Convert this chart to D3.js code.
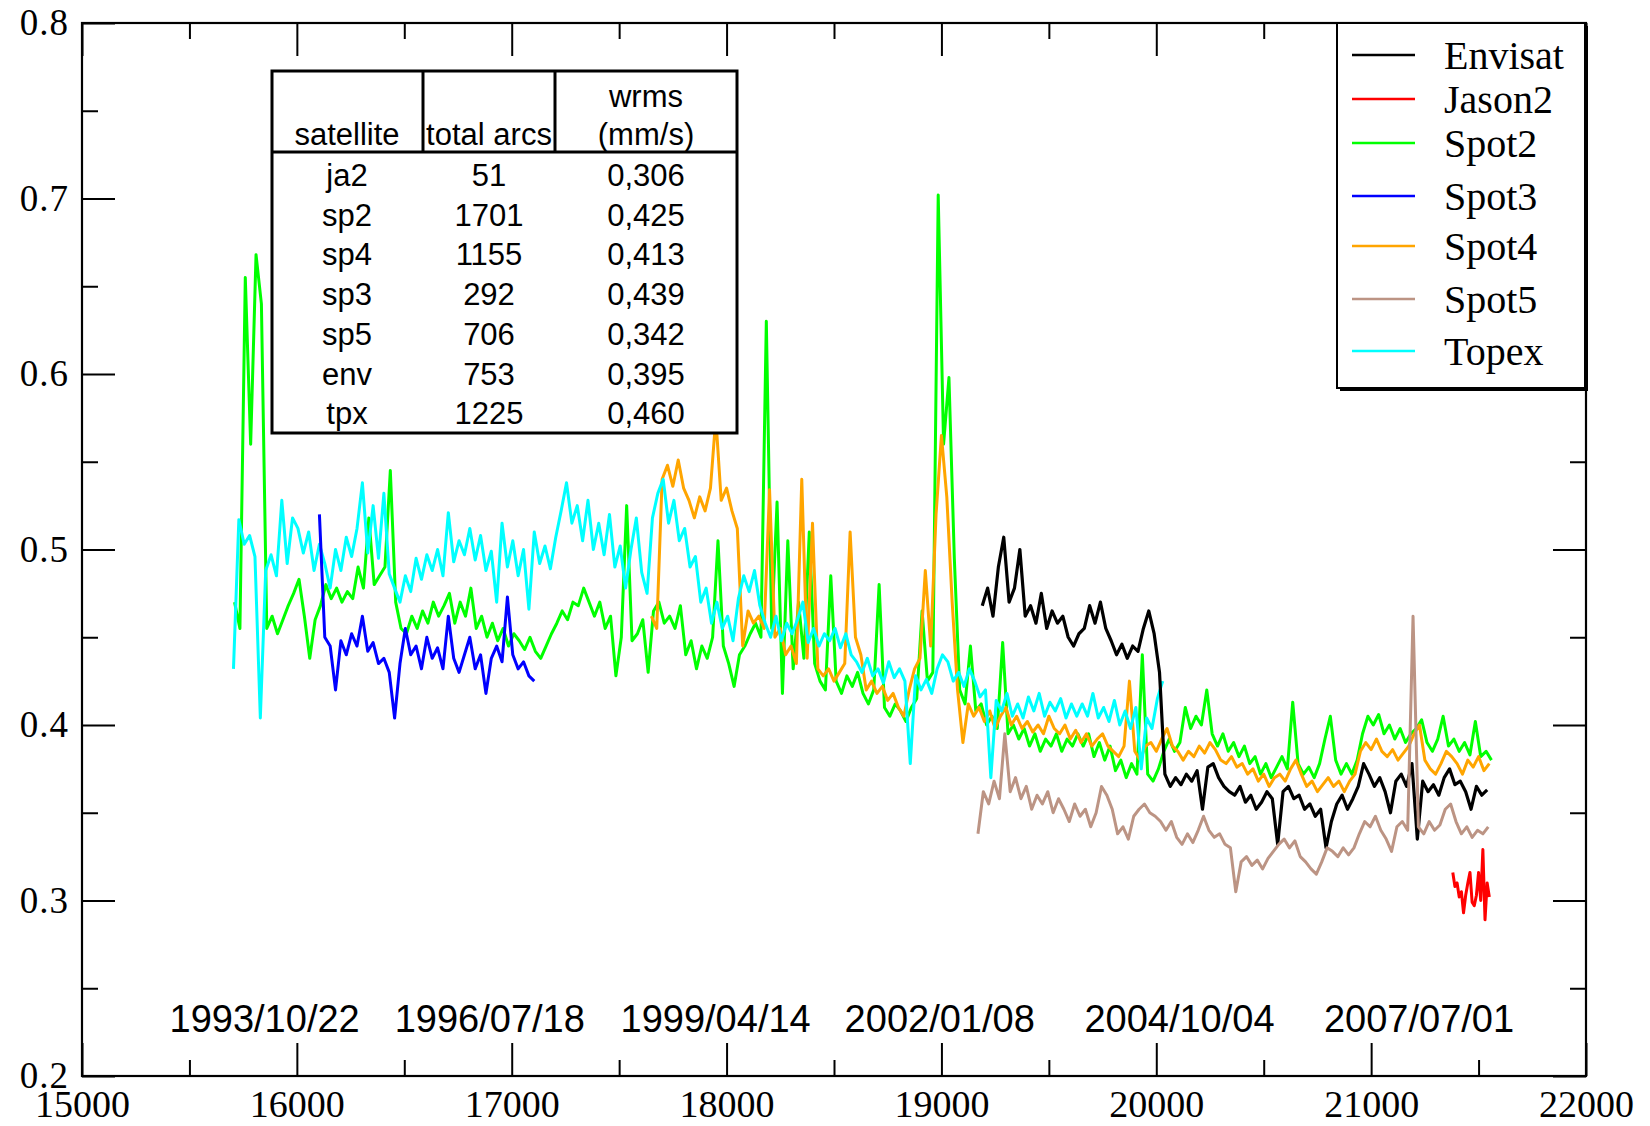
<!DOCTYPE html>
<html><head><meta charset="utf-8">
<script src="https://cdn.jsdelivr.net/npm/d3@7"></script>
<style>html,body{margin:0;padding:0;background:#fff;} svg{display:block;}</style>
</head><body>
<svg id="chart" width="1650" height="1126"></svg>
<script>
// ---------- data ----------
const seriesNames  = ["Envisat","Jason2","Spot2","Spot3","Spot4","Spot5","Topex"];
const seriesColors = ["#000000","#ff0000","#00ff00","#0000ff","#ffa500","#bc9484","#00ffff"];
const drawOrder    = ["Spot2","Spot4","Topex","Spot3","Envisat","Spot5","Jason2"];

// each series: first day (CNES julian day), day step, wrms values (mm/s)
const envisatStart = 19190, envisatStep = 25;
const envisatValues = [
.468,.478,.462,.490,.507,.470,.478,.500,.462,.468,
.458,.475,.455,.465,.458,.462,.450,.445,.452,.455,
.468,.458,.470,.455,.448,.440,.446,.438,.445,.442,
.455,.465,.452,.430,.372,.365,.370,.366,.372,.368,
.374,.352,.376,.378,.370,.365,.362,.360,.365,.356,
.360,.352,.356,.362,.358,.332,.362,.365,.358,.360,
.352,.355,.348,.352,.330,.345,.355,.360,.352,.358,
.365,.378,.372,.365,.370,.362,.350,.368,.372,.365,
.378,.335,.368,.362,.366,.360,.370,.375,.366,.368,
.362,.352,.365,.360,.363];

const jason2Start = 21380, jason2Step = 10;
const jason2Values = [.316,.308,.310,.302,.305,.293,.303,.310,.316,.299,.297,.303,.316,.300,.329,.289,.310,.302];

const spot2Start = 15710, spot2Step = 25;
const spot2Values = [
.470,.455,.655,.560,.668,.640,.455,.462,.452,.460,
.468,.475,.483,.462,.438,.460,.468,.480,.472,.478,
.470,.476,.472,.490,.478,.518,.480,.485,.490,.545,
.470,.455,.452,.462,.455,.465,.458,.470,.462,.468,
.475,.458,.470,.462,.478,.455,.462,.450,.458,.448,
.455,.445,.452,.448,.443,.450,.442,.438,.445,.452,
.458,.465,.460,.470,.468,.478,.470,.462,.470,.455,
.462,.428,.450,.525,.448,.452,.460,.430,.465,.470,
.458,.462,.455,.468,.440,.448,.432,.445,.438,.450,
.505,.445,.435,.422,.440,.445,.452,.458,.450,.630,
.455,.527,.418,.505,.432,.470,.438,.510,.435,.425,
.420,.485,.425,.418,.428,.422,.430,.418,.412,.420,
.480,.410,.405,.412,.408,.402,.410,.415,.465,.425,
.430,.702,.560,.598,.495,.420,.412,.445,.408,.412,
.400,.405,.398,.447,.395,.400,.392,.398,.388,.395,
.385,.392,.388,.395,.385,.392,.388,.395,.388,.395,
.382,.390,.380,.388,.374,.380,.370,.378,.372,.440,
.372,.368,.375,.385,.392,.385,.390,.410,.398,.405,
.400,.420,.395,.388,.395,.385,.390,.382,.388,.378,
.382,.372,.378,.370,.376,.382,.375,.413,.378,.372,
.376,.370,.378,.392,.405,.380,.372,.378,.372,.380,
.395,.405,.400,.406,.395,.400,.392,.398,.390,.395,
.398,.403,.390,.385,.392,.405,.388,.392,.385,.390,
.383,.402,.382,.385,.380];

const spot3Start = 16105, spot3Step = 25;
const spot3Values = [
.520,.450,.445,.420,.448,.440,.452,.445,.462,.442,
.447,.435,.438,.430,.404,.435,.455,.440,.445,.432,
.450,.438,.444,.432,.462,.438,.430,.440,.450,.432,
.440,.418,.438,.445,.436,.473,.440,.432,.436,.428,
.425];

const spot4Start = 17650, spot4Step = 25;
const spot4Values = [
.462,.455,.540,.548,.536,.551,.535,.528,.518,.530,
.522,.535,.575,.528,.535,.522,.512,.445,.465,.458,
.462,.455,.534,.450,.455,.440,.445,.435,.540,.438,
.515,.432,.428,.432,.425,.430,.435,.510,.450,.440,
.420,.425,.418,.422,.414,.418,.410,.405,.420,.432,
.438,.488,.445,.520,.565,.530,.470,.420,.390,.412,
.405,.410,.402,.408,.398,.405,.410,.400,.405,.398,
.402,.396,.400,.395,.405,.398,.395,.400,.392,.397,
.390,.395,.388,.392,.395,.388,.385,.382,.388,.425,
.385,.380,.388,.390,.385,.392,.398,.388,.385,.380,
.385,.382,.388,.384,.390,.386,.380,.378,.382,.376,
.378,.372,.375,.368,.372,.365,.370,.372,.368,.375,
.380,.372,.365,.368,.362,.366,.370,.365,.368,.362,
.368,.372,.385,.390,.386,.392,.385,.382,.386,.380,
.384,.388,.395,.400,.380,.375,.372,.378,.385,.382,
.378,.372,.380,.376,.382,.374,.378];

const spot5Start = 19170, spot5Step = 25;
const spot5Values = [
.338,.362,.355,.368,.358,.395,.362,.370,.358,.365,
.352,.360,.355,.362,.350,.358,.352,.345,.355,.348,
.352,.342,.350,.365,.360,.352,.338,.342,.335,.348,
.352,.355,.350,.348,.345,.340,.345,.336,.332,.338,
.333,.340,.348,.340,.336,.338,.332,.330,.305,.322,
.325,.320,.323,.318,.324,.328,.332,.335,.330,.334,
.325,.322,.318,.315,.322,.330,.328,.325,.330,.326,
.330,.338,.345,.342,.348,.340,.335,.328,.342,.345,
.340,.462,.342,.338,.345,.340,.343,.352,.355,.345,
.338,.342,.336,.340,.338,.342];

const topexStart = 15705, topexStep = 25;
const topexValues = [
.432,.517,.503,.508,.496,.404,.488,.497,.485,.528,
.492,.518,.512,.498,.510,.488,.503,.492,.478,.500,
.488,.507,.496,.512,.538,.498,.525,.495,.532,.486,
.478,.470,.485,.476,.495,.483,.497,.488,.500,.485,
.521,.493,.505,.497,.512,.494,.508,.488,.499,.470,
.515,.490,.505,.485,.500,.466,.510,.492,.502,.489,
.507,.522,.538,.515,.525,.505,.528,.500,.515,.497,
.520,.490,.502,.478,.500,.518,.487,.475,.518,.532,
.540,.515,.528,.505,.512,.490,.496,.470,.478,.458,
.470,.455,.462,.448,.472,.485,.476,.488,.468,.458,
.450,.462,.448,.458,.452,.460,.470,.447,.455,.445,
.452,.448,.455,.444,.452,.440,.436,.430,.438,.428,
.432,.424,.436,.427,.432,.425,.378,.428,.420,.426,
.418,.432,.440,.436,.425,.430,.422,.432,.425,.416,
.420,.370,.414,.408,.418,.405,.412,.404,.416,.408,
.418,.405,.413,.408,.415,.404,.412,.405,.412,.405,
.418,.404,.410,.402,.414,.400,.408,.398,.410,.375,
.404,.398,.415,.425];

const xMajorTicks = [15000,16000,17000,18000,19000,20000,21000,22000];
const xMinorTicks = [15500,16500,17500,18500,19500,20500,21500];
const yMajorTicks = [0.2,0.3,0.4,0.5,0.6,0.7,0.8];
const yMinorTicks = [0.25,0.35,0.45,0.55,0.65,0.75];

const dateLabels    = ["1993/10/22","1996/07/18","1999/04/14","2002/01/08","2004/10/04","2007/07/01"];
const dateLabelDays = [15850,16898,17949,18992,20108,21223];

const tableSatellites = ["ja2","sp2","sp4","sp3","sp5","env","tpx"];
const tableArcs       = ["51","1701","1155","292","706","753","1225"];
const tableWrms       = ["0,306","0,425","0,413","0,439","0,342","0,395","0,460"];

// ---------- build ----------
const series = {
  Envisat:{start:envisatStart,step:envisatStep,values:envisatValues},
  Jason2:{start:jason2Start,step:jason2Step,values:jason2Values},
  Spot2:{start:spot2Start,step:spot2Step,values:spot2Values},
  Spot3:{start:spot3Start,step:spot3Step,values:spot3Values},
  Spot4:{start:spot4Start,step:spot4Step,values:spot4Values},
  Spot5:{start:spot5Start,step:spot5Step,values:spot5Values},
  Topex:{start:topexStart,step:topexStep,values:topexValues}
};
const colorOf = d3.scaleOrdinal().domain(seriesNames).range(seriesColors);

const svg = d3.select("#chart");
const L = 82, R = 1586, T = 23, B = 1076;
const x = d3.scaleLinear().domain([15000,22000]).range([L,R]);
const y = d3.scaleLinear().domain([0.2,0.8]).range([B,T]);

svg.append("rect").attr("width",1650).attr("height",1126).attr("fill","#fff");

svg.append("defs").append("clipPath").attr("id","plotclip")
  .append("rect").attr("x",L).attr("y",T).attr("width",R-L).attr("height",B-T);

const line = d3.line().curve(d3.curveLinear).x(d=>x(d.day)).y(d=>y(d.v));
const gLines = svg.append("g").attr("clip-path","url(#plotclip)");
drawOrder.forEach(name=>{
  const s = series[name];
  const pts = s.values.map((v,i)=>({day:s.start+i*s.step, v}));
  gLines.append("path").datum(pts)
    .attr("d",line).attr("fill","none")
    .attr("stroke",colorOf(name))
    .attr("stroke-width", name==="Envisat"?3.2:3)
    .attr("stroke-linejoin","round");
});

// ---------- axes (ticks pointing inwards on all four sides) ----------
const serif = "'Liberation Serif','DejaVu Serif',serif";
function styleAxis(g){
  g.select(".domain").remove();
  g.selectAll(".tick line").attr("stroke","#000").attr("stroke-width",2);
}
// bottom
svg.append("g").attr("transform",`translate(0,${B})`)
  .call(d3.axisBottom(x).tickValues(xMajorTicks).tickSize(-33).tickSizeOuter(0).tickFormat(d3.format("d")))
  .call(styleAxis)
  .call(g=>g.selectAll("text").attr("y",41).attr("dy",0)
      .attr("font-family",serif).attr("font-size",38).attr("fill","#000"));
svg.append("g").attr("transform",`translate(0,${B})`)
  .call(d3.axisBottom(x).tickValues(xMinorTicks).tickSize(-16).tickSizeOuter(0).tickFormat(""))
  .call(styleAxis);
// top
svg.append("g").attr("transform",`translate(0,${T})`)
  .call(d3.axisTop(x).tickValues(xMajorTicks).tickSize(-33).tickSizeOuter(0).tickFormat(""))
  .call(styleAxis);
svg.append("g").attr("transform",`translate(0,${T})`)
  .call(d3.axisTop(x).tickValues(xMinorTicks).tickSize(-16).tickSizeOuter(0).tickFormat(""))
  .call(styleAxis);
// left
svg.append("g").attr("transform",`translate(${L},0)`)
  .call(d3.axisLeft(y).tickValues(yMajorTicks).tickSize(-33).tickSizeOuter(0).tickPadding(13).tickFormat(d3.format(".1f")))
  .call(styleAxis)
  .call(g=>g.selectAll("text").attr("dy","0.32em")
      .attr("font-family",serif).attr("font-size",37).attr("letter-spacing",1).attr("fill","#000"));
svg.append("g").attr("transform",`translate(${L},0)`)
  .call(d3.axisLeft(y).tickValues(yMinorTicks).tickSize(-16).tickSizeOuter(0).tickFormat(""))
  .call(styleAxis);
// right
svg.append("g").attr("transform",`translate(${R},0)`)
  .call(d3.axisRight(y).tickValues(yMajorTicks).tickSize(-33).tickSizeOuter(0).tickFormat(""))
  .call(styleAxis);
svg.append("g").attr("transform",`translate(${R},0)`)
  .call(d3.axisRight(y).tickValues(yMinorTicks).tickSize(-16).tickSizeOuter(0).tickFormat(""))
  .call(styleAxis);

// frame
svg.append("rect").attr("x",L).attr("y",T).attr("width",R-L).attr("height",B-T)
  .attr("fill","none").attr("stroke","#000").attr("stroke-width",2.2);

// date annotations
const sans = "'Liberation Sans',Arial,sans-serif";
svg.append("g").selectAll("text").data(dateLabels).join("text")
  .attr("x",(d,i)=>x(dateLabelDays[i])).attr("y",1032)
  .attr("text-anchor","middle").attr("font-family",sans).attr("font-size",38)
  .attr("fill","#000").text(d=>d);

// ---------- table ----------
const tb = svg.append("g");
const tL = 272, tR = 737, tT = 71, tB = 433, tH = 152, c1 = 423, c2 = 555;
tb.append("rect").attr("x",tL).attr("y",tT).attr("width",tR-tL).attr("height",tB-tT)
  .attr("fill","#fff").attr("stroke","#000").attr("stroke-width",3);
tb.append("line").attr("x1",tL).attr("x2",tR).attr("y1",tH).attr("y2",tH).attr("stroke","#000").attr("stroke-width",3);
[c1,c2].forEach(cx=>tb.append("line").attr("x1",cx).attr("x2",cx).attr("y1",tT).attr("y2",tH).attr("stroke","#000").attr("stroke-width",3));
const colX = [347,489,646];
const tfont = (sel)=>sel.attr("font-family",sans).attr("font-size",31).attr("fill","#000").attr("text-anchor","middle");
tb.append("text").attr("x",colX[0]).attr("y",145).text("satellite").call(tfont);
tb.append("text").attr("x",colX[1]).attr("y",145).text("total arcs").call(tfont);
tb.append("text").attr("x",colX[2]).attr("y",107).text("wrms").call(tfont);
tb.append("text").attr("x",colX[2]).attr("y",145).text("(mm/s)").call(tfont);
const rowY = i => 186 + i*39.7;
tb.selectAll("text.sat").data(tableSatellites).join("text").attr("class","sat")
  .attr("x",colX[0]).attr("y",(d,i)=>rowY(i)).text(d=>d).call(tfont);
tb.selectAll("text.arcs").data(tableArcs).join("text").attr("class","arcs")
  .attr("x",colX[1]).attr("y",(d,i)=>rowY(i)).text(d=>d).call(tfont);
tb.selectAll("text.wrms").data(tableWrms).join("text").attr("class","wrms")
  .attr("x",colX[2]).attr("y",(d,i)=>rowY(i)).text(d=>d).call(tfont);

// ---------- legend ----------
const lg = svg.append("g");
const lgL = 1337, lgT = 23, lgW = 248, lgH = 365;
lg.append("rect").attr("x",lgL+3).attr("y",lgT+3).attr("width",lgW).attr("height",lgH).attr("fill","#000");
lg.append("rect").attr("x",lgL).attr("y",lgT).attr("width",lgW).attr("height",lgH)
  .attr("fill","#fff").attr("stroke","#000").attr("stroke-width",2);
const legendBaselines = [69,113,157,210,260,313,365];
seriesNames.forEach((name,i)=>{
  const by = legendBaselines[i];
  lg.append("line").attr("x1",1352).attr("x2",1415).attr("y1",by-14).attr("y2",by-14)
    .attr("stroke",colorOf(name)).attr("stroke-width",2.4);
  lg.append("text").attr("x",1444).attr("y",by).attr("font-family",serif).attr("font-size",40)
    .attr("fill","#000").text(name);
});
</script>
</body></html>
